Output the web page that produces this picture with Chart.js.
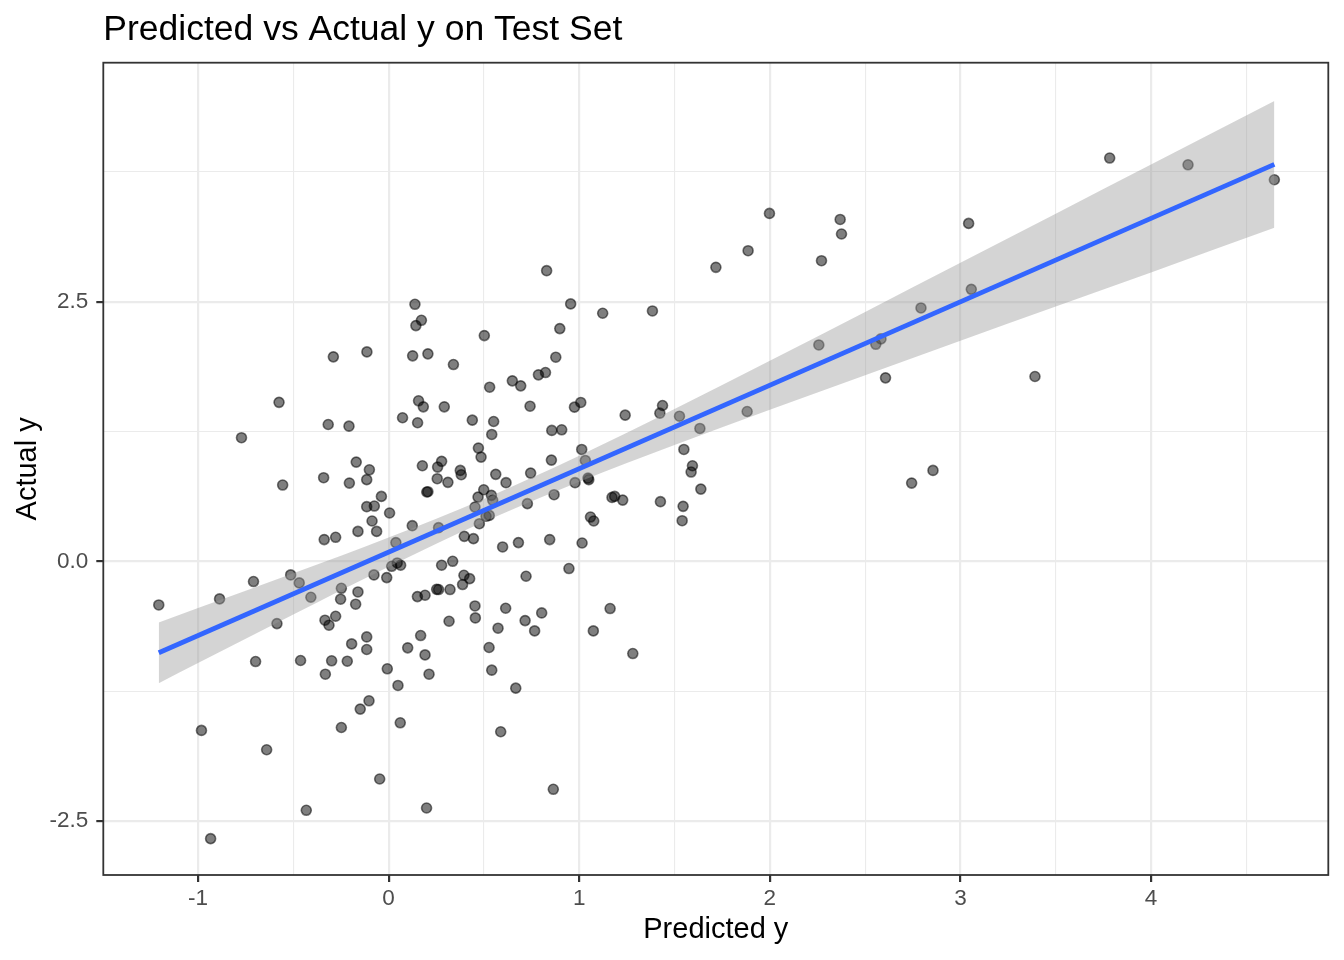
<!DOCTYPE html>
<html>
<head>
<meta charset="utf-8">
<script src="https://cdn.jsdelivr.net/npm/chart.js@4.4.1/dist/chart.umd.min.js"></script>
<style>
  html, body { margin: 0; padding: 0; background: #ffffff; }
  canvas { display: block; }
</style>
</head>
<body>
<canvas id="scatterChart" width="1344" height="960"></canvas>
<script>
// test set: predicted vs actual
const predicted = [
  -0.575, -0.317, -0.772, -0.341, -0.556, -0.338, -0.278, -0.514, -0.469, -0.709, -0.408, -0.887, -1.206,
  -0.586, -0.334, -0.313, -0.278, -0.698, -0.462, -0.299, -0.332, -0.982, -0.64, -0.432, -0.934,
  0.138, 0.172, 0.143, 0.502, -0.29, -0.114, 0.126, 0.206, 0.34, 0.649,
  0.693, 0.53, 0.157, 0.182, 0.292, 0.742, 0.073, 0.152, -0.208, 0.439,
  0.551, 0.541, 0.471, 0.485, -0.17, -0.101, -0.115, -0.206, 0.177, 0.278,
  0.257, 0.255, 0.311, 0.376, 0.381, 0.562, 0.616, 0.2, 0.206, -0.038,
  -0.115, -0.075, 0.005, -0.087, -0.063, -0.161, 0.124, 0.038, 0.262, 0.453,
  0.499, 0.469, 0.539, 0.546, 0.511, 0.528, 0.476, 0.728, 0.745, 0.397,
  0.445, 0.598, 0.681, 0.045, 0.016, 0.063, 0.278, 0.336,
  -0.077, -0.01, 0.395, 0.425, 0.388, 0.252, 0.262, 0.322, 0.191, 0.151,
  0.721, -0.248, -0.161, -0.252, -0.173, 0.453, 0.455, 0.614, 0.716, 0.317,
  0.574, -0.115, 0.168, -0.194, -0.115, 0.1, 0.191, 0.527, -0.217, -0.007,
  0.212, 0.541, 0.049, 0.667, -0.103, -0.149, -0.248, 0.061, 0.588, -0.047,
  0.199,
  0.829, 1.717, 0.955, 1.123, 1.384, 0.898, 0.877, 0.786, 0.823, 0.975,
  1.008, 1.241, 1.437, 1.423, 1.526, 1.633, 0.856, 0.908, 1.013, 0.854,
  1.032, 1.549, 1.594, 1.587, 1.638, 0.978, 1.046, 1.05, 0.868, 1.172,
  1.186, 1.228, 1.426, 1.545, 1.54, 1.059, 1.076, 0.845, 1.015, 0.946,
  0.803, 0.766, 1.162, 1.074, 1.281, 0.864,
  1.998, 1.886, 2.369, 2.376, 2.271, 3.043, 3.057, 2.793, 2.257, 2.556, 2.583, 2.607, 1.881, 2.744, 2.856,
  3.783, 4.194, 4.647, 3.391
];
const actual = [
  1.53, 1.317, 1.19, 0.805, 0.734, 0.209, 0.231, -0.131, -0.208, -0.195, -0.346, -0.362, -0.42,
  -0.6, -0.567, -0.615, -0.529, -0.965, -0.955, -0.958, -1.087, -1.628, -1.814, -2.397, -2.67,
  2.474, 2.32, 2.269, 2.173, 1.968, 2.016, 1.978, 1.997, 1.894, 1.737,
  1.689, 1.676, 1.545, 1.487, 1.487, 1.493, 1.382, 1.334, 1.301, 1.359,
  1.346, 1.221, 1.09, 1.003, 0.955, 0.881, 0.786, 0.753, 0.92, 0.962,
  0.907, 0.795, 0.76, 0.875, 0.833, 0.837, 0.757, 0.667, 0.67, 0.625,
  0.526, 0.532, 0.465, 0.388, 0.288, 0.288, 0.343, 0.18, 0.324, 0.522,
  0.689, 0.618, 0.635, 0.587, 0.433, 0.442, 0.362, 0.555, 0.849, 0.24,
  0.218, 0.138, 0.18, -0.016, -0.048, -0.038, -0.038, 0.0,
  -0.131, -0.157, -0.135, -0.167, -0.224, -0.27, -0.272, -0.272, -0.327, -0.34,
  -0.144, -0.26, -0.295, -0.365, -0.413, -0.43, -0.545, -0.452, -0.571, -0.577,
  -0.644, -0.728, -0.715, -0.795, -0.849, -0.833, -0.901, -0.83, -0.962, -1.035,
  -1.087, -1.048, -1.195, -1.221, -1.343, -1.423, -1.6, -1.555, -1.641, -2.096,
  -2.375,
  2.798, 2.83, 2.478, 2.388, 2.41, 2.24, 1.965, 1.795, 1.817, 1.484,
  1.529, 1.407, 1.5, 1.426, 1.397, 1.279, 1.26, 1.266, 1.077, 0.974,
  0.971, 1.077, 0.92, 0.859, 0.695, 0.757, 0.801, 0.786, 0.641, 0.615,
  0.625, 0.589, 0.574, 0.529, 0.391, 0.426, 0.388, 0.209, 0.176, -0.07,
  -0.497, -0.67, -0.455, -0.67, -0.888, -2.195,
  3.349, 2.99, 3.291, 3.151, 2.894, 3.253, 2.618, 2.439, 2.083, 2.089, 2.141, 1.766, 1.442, 0.753, 0.875,
  3.882, 3.817, 3.673, 1.779
];

// lm fit line and its 95% band, read at a few x positions
const fitX = [-1.206, 4.647];
const fitY = [-0.881, 3.821];
const bandX    = [-1.206, -1.0, -0.5, 0, 0.5, 1, 1.5, 2, 2.5, 3, 3.5, 4, 4.647];
const bandLow  = [-1.173, -0.98, -0.512, -0.053, 0.380, 0.766, 1.120, 1.459, 1.792, 2.123, 2.453, 2.781, 3.211];
const bandHigh = [-0.589, -0.45, -0.116, 0.229, 0.600, 1.016, 1.466, 1.931, 2.400, 2.873, 3.347, 3.821, 4.431];

// axis breaks
const xMajor = [-1, 0, 1, 2, 3, 4];
const xMajorLabels = ['-1', '0', '1', '2', '3', '4'];
const xMinor = [-0.5, 0.5, 1.5, 2.5, 3.5, 4.5];
const yMajor = [-2.5, 0, 2.5];
const yMajorLabels = ['-2.5', '0.0', '2.5'];
const yMinor = [-1.25, 1.25, 3.75];

const titleText = 'Predicted vs Actual y on Test Set';
const FONT = '"Liberation Sans", Arial, Helvetica, sans-serif';

const toXY = (xs, ys) => xs.map((x, i) => ({ x: x, y: ys[i] }));

const breaks = (major, minor) => () => major.concat(minor).sort((a, b) => a - b).map(v => ({ value: v }));

function gridFor(major) {
  return {
    drawTicks: true,
    tickLength: 7,
    tickWidth: 2.2,
    color: '#EBEBEB',
    lineWidth: c => major.includes(c.tick.value) ? 2.2 : 1.1,
    tickColor: c => major.includes(c.tick.value) ? '#333333' : 'rgba(0,0,0,0)'
  };
}

// title + full panel frame like theme_bw
const ggDecor = {
  id: 'ggDecor',
  afterDraw(chart) {
    const { ctx, chartArea } = chart;
    ctx.save();
    ctx.strokeStyle = '#333333';
    ctx.lineWidth = 1.8;
    ctx.strokeRect(chartArea.left, chartArea.top, chartArea.right - chartArea.left, chartArea.bottom - chartArea.top);
    ctx.fillStyle = '#000000';
    ctx.font = '35.5px ' + FONT;
    ctx.textBaseline = 'alphabetic';
    ctx.textAlign = 'left';
    ctx.fillText(titleText, chartArea.left, 39.5);
    ctx.restore();
  }
};

new Chart(document.getElementById('scatterChart'), {
  type: 'scatter',
  data: {
    datasets: [
      {
        label: 'fit',
        data: toXY(fitX, fitY),
        showLine: true,
        borderColor: '#3366FF',
        borderWidth: 4.8,
        pointRadius: 0,
        fill: false,
        order: 1
      },
      {
        label: 'band low',
        data: toXY(bandX, bandLow),
        showLine: true,
        borderWidth: 0,
        borderColor: 'rgba(0,0,0,0)',
        pointRadius: 0,
        cubicInterpolationMode: 'monotone',
        fill: false,
        order: 2
      },
      {
        label: 'band high',
        data: toXY(bandX, bandHigh),
        showLine: true,
        borderWidth: 0,
        borderColor: 'rgba(0,0,0,0)',
        pointRadius: 0,
        cubicInterpolationMode: 'monotone',
        backgroundColor: 'rgba(153,153,153,0.42)',
        fill: '-1',
        order: 2
      },
      {
        label: 'test points',
        data: toXY(predicted, actual),
        pointRadius: 5,
        pointBorderWidth: 1.6,
        pointBackgroundColor: 'rgba(0,0,0,0.5)',
        pointBorderColor: 'rgba(0,0,0,0.52)',
        order: 4
      }
    ]
  },
  options: {
    responsive: false,
    devicePixelRatio: 1,
    animation: false,
    layout: { padding: { top: 62.7, right: 15.7, bottom: 0, left: 0 } },
    plugins: {
      legend: { display: false },
      tooltip: { enabled: false },
      title: { display: false }
    },
    scales: {
      x: {
        type: 'linear',
        position: 'bottom',
        min: -1.497,
        max: 4.93,
        afterBuildTicks: s => { s.ticks = breaks(xMajor, xMinor)(); },
        afterFit: s => { s.height = 85; },
        grid: gridFor(xMajor),
        border: { display: false },
        ticks: {
          autoSkip: false,
          maxRotation: 0,
          padding: 3,
          color: '#4D4D4D',
          font: { family: FONT, size: 22.5 },
          callback: v => xMajor.includes(v) ? xMajorLabels[xMajor.indexOf(v)] : ''
        },
        title: {
          display: true,
          text: 'Predicted y',
          color: '#000000',
          font: { family: FONT, size: 29 },
          padding: { top: 0, bottom: 12.6 }
        }
      },
      y: {
        type: 'linear',
        position: 'left',
        min: -3.02,
        max: 4.8,
        afterBuildTicks: s => { s.ticks = breaks(yMajor, yMinor)(); },
        afterFit: s => { s.width = 103.3; },
        grid: gridFor(yMajor),
        border: { display: false },
        ticks: {
          autoSkip: false,
          padding: 8,
          color: '#4D4D4D',
          font: { family: FONT, size: 22.5 },
          callback: v => yMajor.includes(v) ? yMajorLabels[yMajor.indexOf(v)] : ''
        },
        title: {
          display: true,
          text: 'Actual y',
          color: '#000000',
          font: { family: FONT, size: 29 },
          padding: { top: 10.6, bottom: 0 }
        }
      }
    }
  },
  plugins: [ggDecor]
});
</script>
</body>
</html>
